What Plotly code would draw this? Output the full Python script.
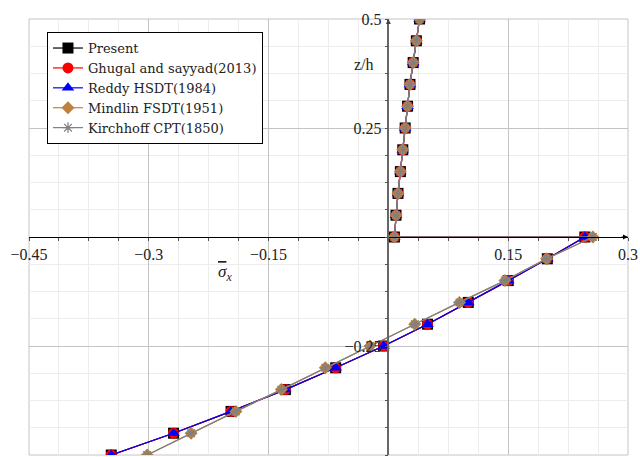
import plotly.graph_objects as go

# z/h positions: lower branch (-0.5 .. 0) then upper branch (0 .. 0.5)
z_lower = [-0.5, -0.45, -0.4, -0.35, -0.3, -0.25, -0.2, -0.15, -0.1, -0.05, 0.0]
z_upper = [0.0, 0.05, 0.1, 0.15, 0.2, 0.25, 0.3, 0.35, 0.4, 0.45, 0.5]

# sigma_x values
present_lower = [-0.347, -0.269, -0.197, -0.129, -0.066, -0.006, 0.049, 0.100, 0.150, 0.199, 0.246]
ghugal_lower = [-0.347, -0.269, -0.197, -0.129, -0.066, -0.006, 0.049, 0.100, 0.150, 0.199, 0.246]
reddy_lower = [-0.347, -0.269, -0.197, -0.129, -0.066, -0.006, 0.049, 0.100, 0.150, 0.199, 0.246]
mindlin_lower = [-0.302, -0.247, -0.191, -0.134, -0.079, -0.023, 0.033, 0.089, 0.146, 0.198, 0.256]
kirchhoff_lower = [-0.302, -0.247, -0.191, -0.134, -0.079, -0.023, 0.033, 0.089, 0.146, 0.198, 0.256]

upper_common = [0.0075, 0.0095, 0.012, 0.015, 0.018, 0.021, 0.024, 0.027, 0.031, 0.035, 0.039]

series_names = ["Present", "Ghugal and sayyad(2013)", "Reddy HSDT(1984)",
                "Mindlin FSDT(1951)", "Kirchhoff CPT(1850)"]
series_lower = [present_lower, ghugal_lower, reddy_lower, mindlin_lower, kirchhoff_lower]

x_tickvals = [-0.45, -0.3, -0.15, 0.15, 0.3]
x_ticktext = ["\u22120.45", "\u22120.3", "\u22120.15", "0.15", "0.3"]
y_tickvals = [-0.5, -0.25, 0.25, 0.5]
y_ticktext = ["\u22120.5", "\u22120.25", "0.25", "0.5"]
x_minor = [-0.45 + 0.0375 * i for i in range(21)]
y_minor = [-0.5 + 0.0625 * i for i in range(17)]

styles = [
    dict(color="black", symbol="square", size=11, lw=1.2, mline=None),
    dict(color="red", symbol="circle", size=11, lw=1.2, mline=None),
    dict(color="blue", symbol="triangle-up", size=11, lw=1.2, mline=None),
    dict(color="#bf8040", symbol="diamond", size=10, lw=1.2, mline=None),
    dict(color="#808080", symbol="asterisk-open", size=9, lw=1.2, mline="#808080"),
]

fig = go.Figure()
for name, low, st in zip(series_names, series_lower, styles):
    xs = low + upper_common
    zs = z_lower + z_upper
    marker = dict(color=st["color"], symbol=st["symbol"], size=st["size"])
    if st["mline"]:
        marker["line"] = dict(color=st["mline"], width=1.2)
    else:
        marker["line"] = dict(width=0)
    fig.add_trace(go.Scatter(x=xs, y=zs, mode="lines+markers", name=name,
                             line=dict(color=st["color"], width=st["lw"]),
                             marker=marker))

font = "Liberation Serif"
legfont = "DejaVu Serif"
fig.update_layout(
    width=640, height=457,
    margin=dict(l=29, r=10, t=19, b=2),
    paper_bgcolor="white", plot_bgcolor="white",
    font=dict(family=font, size=16, color="#222"),
    showlegend=True,
    legend=dict(x=0.03, y=0.97, xanchor="left", yanchor="top",
                bgcolor="white", bordercolor="black", borderwidth=1,
                font=dict(family=legfont, size=13, color="#222"),
                tracegroupgap=0, itemwidth=30),
    xaxis=dict(range=[-0.45, 0.3], anchor="free", position=0.5,
               tickmode="array", tickvals=x_tickvals, ticktext=x_ticktext,
               showgrid=True, gridcolor="#c4c4c4", gridwidth=1,
               showline=True, linecolor="black", linewidth=1.2,
               zeroline=False, ticks="outside", ticklen=3, tickcolor="#555",
               minor=dict(tickmode="array", tickvals=x_minor, showgrid=True,
                          gridcolor="#ececec", ticks="outside", ticklen=3, tickcolor="#555"),
               tickfont=dict(family=font, size=16, color="#222")),
    yaxis=dict(range=[-0.5, 0.5], anchor="free", position=0.6,
               tickmode="array", tickvals=y_tickvals, ticktext=y_ticktext,
               showgrid=True, gridcolor="#c4c4c4", gridwidth=1,
               showline=True, linecolor="#666", linewidth=1.5,
               zeroline=False, ticks="outside", ticklen=3, tickcolor="#555",
               minor=dict(tickmode="array", tickvals=y_minor, showgrid=True,
                          gridcolor="#ececec", ticks="outside", ticklen=3, tickcolor="#555"),
               tickfont=dict(family=font, size=16, color="#222")),
    shapes=[dict(type="rect", xref="paper", yref="paper", x0=0, y0=0, x1=1, y1=1,
                 line=dict(color="#c4c4c4", width=1), layer="below")],
    annotations=[
        dict(x=0.3, y=0, ax=0.29, ay=0, xref="x", yref="y", axref="x", ayref="y",
             text="", showarrow=True, arrowhead=2, arrowsize=1, arrowwidth=1, arrowcolor="black"),
        dict(x=0, y=0.5, ax=0, ay=0.49, xref="x", yref="y", axref="x", ayref="y",
             text="", showarrow=True, arrowhead=2, arrowsize=1, arrowwidth=1, arrowcolor="#444"),
        dict(x=-0.03, y=0.395, xref="x", yref="y", text="z/h", showarrow=False,
             font=dict(family=font, size=16, color="#222")),
        dict(x=-0.205, y=-0.083, xref="x", yref="y",
             text="<span style='text-decoration:overline'><i>\u03c3</i></span><i><sub>x</sub></i>",
             showarrow=False, font=dict(family=font, size=17, color="#222")),
    ],
)

fig.write_html("out.html")
